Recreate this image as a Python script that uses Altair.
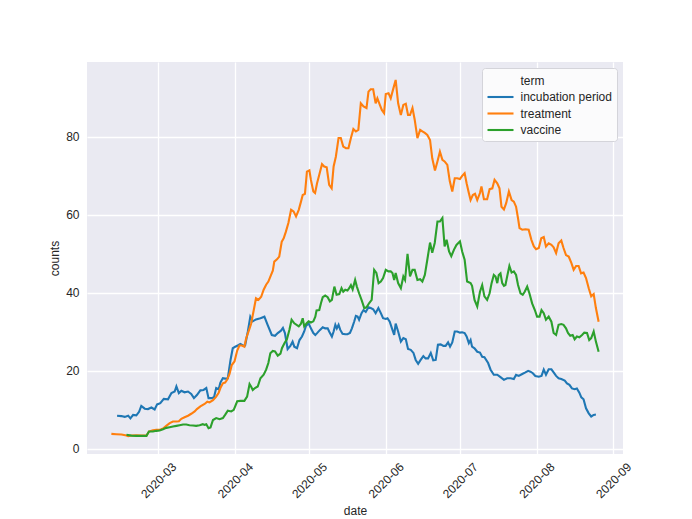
import altair as alt
import pandas as pd

# (days after 2020-03-01, count)
incubation_period = [
    (-16.7, 8.5), (-15.0, 8.4), (-13.6, 8.2), (-12.2, 8.5), (-11.3, 7.8), (-10.2, 8.7), (-8.9, 8.6),
    (-7.8, 9.5), (-6.9, 11.0), (-5.5, 10.3), (-4.2, 10.2), (-2.8, 10.6), (-1.5, 10.1), (-0.5, 11.4),
    (0.8, 11.7), (2.2, 12.8), (3.9, 12.7), (5.3, 14.3), (6.6, 14.7), (7.3, 16.0), (8.3, 14.3),
    (9.3, 14.9), (10.6, 14.5), (12.0, 14.7), (13.3, 14.1), (14.4, 13.0), (15.6, 13.8), (17.0, 15.0),
    (18.3, 15.1), (19.4, 15.6), (20.3, 13.0), (21.4, 13.0), (22.5, 13.2), (23.4, 15.6), (24.4, 15.3),
    (25.1, 17.0), (26.1, 18.1), (27.0, 18.0), (28.1, 18.1), (29.2, 22.8), (30.1, 25.8), (31.1, 26.2),
    (32.1, 26.5), (33.2, 26.9), (34.2, 26.5), (35.1, 26.5), (36.2, 30.1), (37.2, 33.9), (38.2, 32.7),
    (39.5, 33.2), (41.3, 33.5), (42.9, 33.9), (44.2, 31.8), (45.9, 29.2), (47.2, 29.0), (48.3, 29.7),
    (49.6, 30.3), (50.4, 31.0), (51.2, 29.7), (52.3, 25.6), (53.4, 26.4), (54.3, 27.5), (55.0, 26.2),
    (56.1, 25.8), (57.1, 27.9), (58.1, 28.8), (59.0, 30.1), (59.7, 31.5), (60.8, 32.2), (61.7, 30.9),
    (62.7, 29.7), (63.5, 29.2), (64.4, 29.8), (65.4, 30.5), (66.5, 31.2), (67.5, 30.9), (68.5, 30.9),
    (69.1, 30.1), (70.2, 28.8), (70.9, 30.1), (71.6, 31.8), (72.2, 30.9), (72.9, 31.8), (73.6, 30.5),
    (74.5, 29.5), (75.6, 29.4), (76.5, 29.4), (77.5, 29.7), (78.3, 30.9), (79.2, 32.6), (79.9, 34.1),
    (80.6, 33.9), (81.2, 33.1), (82.2, 34.8), (83.0, 35.6), (83.9, 35.1), (85.0, 36.3), (85.9, 36.1),
    (86.9, 35.8), (87.9, 34.8), (89.0, 36.1), (90.0, 34.8), (90.9, 33.5), (92.0, 33.3), (92.7, 33.5),
    (93.6, 32.6), (94.7, 30.5), (95.4, 29.2), (96.0, 32.1), (97.0, 30.1), (98.1, 27.5), (99.1, 28.4),
    (100.1, 28.1), (101.0, 25.6), (102.1, 25.4), (103.2, 24.6), (104.1, 22.8), (105.1, 21.8),
    (106.1, 22.8), (107.2, 23.8), (108.1, 23.2), (109.1, 23.2), (110.2, 24.6), (111.2, 22.7),
    (112.2, 22.8), (113.1, 26.7), (114.2, 26.8), (115.3, 26.4), (116.2, 26.4), (117.2, 27.3),
    (118.0, 26.2), (118.9, 27.3), (119.9, 30.1), (120.9, 30.1), (122.0, 29.8), (122.9, 29.9),
    (123.9, 29.7), (124.7, 28.8), (125.6, 27.1), (126.3, 27.9), (126.9, 26.2), (127.9, 25.8),
    (129.0, 24.9), (130.1, 24.7), (131.0, 23.6), (131.9, 23.5), (133.4, 22.0), (134.4, 20.3),
    (135.7, 19.0), (137.1, 19.0), (138.4, 18.4), (139.8, 17.7), (141.1, 18.1), (142.5, 18.1),
    (143.8, 17.9), (144.7, 19.0), (145.8, 18.7), (147.2, 19.2), (148.5, 19.6), (149.6, 20.0),
    (150.5, 19.8), (151.5, 19.4), (152.5, 18.7), (153.9, 18.5), (155.0, 18.7), (155.9, 20.3),
    (156.8, 19.0), (157.9, 20.4), (159.0, 20.4), (159.9, 19.6), (160.9, 18.7), (161.9, 18.1),
    (163.0, 17.9), (164.4, 17.5), (165.3, 16.8), (166.3, 16.4), (167.3, 15.5), (168.4, 15.3),
    (169.3, 15.5), (170.3, 14.4), (171.1, 13.2), (172.0, 12.7), (173.0, 10.4), (174.1, 9.1),
    (175.1, 8.3), (176.1, 8.7), (177.0, 8.8),
]

treatment = [
    (-19.0, 3.85), (-17.0, 3.76), (-14.9, 3.67), (-12.9, 3.42), (-12.2, 3.25), (-10.9, 3.42),
    (-8.9, 3.5), (-6.9, 3.42), (-4.8, 3.42), (-3.8, 4.44), (-2.2, 4.79), (-0.8, 4.87), (0.5, 4.87),
    (1.9, 5.2), (3.2, 5.9), (4.6, 6.6), (5.9, 7.0), (7.3, 7.0), (8.3, 7.1), (9.3, 7.7), (10.6, 8.1),
    (12.0, 8.5), (13.3, 9.0), (14.7, 9.6), (15.6, 10.2), (17.0, 10.9), (18.7, 11.5), (19.8, 12.1),
    (20.7, 11.9), (22.1, 12.5), (23.4, 13.4), (24.4, 14.4), (25.1, 15.6), (26.1, 16.8), (27.0, 17.0),
    (27.8, 17.7), (28.8, 19.2), (29.7, 21.5), (30.8, 22.4), (31.9, 25.2), (32.8, 26.5), (33.8, 26.5),
    (34.8, 26.2), (35.5, 28.3), (36.5, 30.1), (37.5, 32.0), (38.6, 35.6), (39.5, 38.6), (40.5, 38.2),
    (41.6, 39.0), (42.6, 40.8), (43.6, 42.1), (44.5, 42.9), (45.6, 44.6), (46.3, 45.7), (46.9, 48.0),
    (48.0, 48.6), (48.9, 49.3), (49.9, 53.1), (50.7, 54.0), (51.6, 55.7), (52.6, 57.9), (53.7, 61.3),
    (54.7, 60.9), (55.7, 59.6), (56.8, 61.3), (57.7, 63.4), (58.4, 65.1), (59.3, 65.4), (60.1, 71.1),
    (61.1, 71.4), (61.7, 69.0), (62.7, 66.0), (63.4, 65.6), (64.2, 68.1), (65.1, 70.3), (66.2, 73.0),
    (67.1, 72.4), (68.1, 72.2), (69.1, 67.7), (70.1, 66.8), (70.9, 72.4), (71.8, 74.9), (72.9, 79.7),
    (73.8, 79.7), (74.8, 77.5), (75.9, 77.1), (76.9, 77.1), (77.9, 79.7), (78.9, 82.0), (79.9, 81.4),
    (80.9, 81.8), (81.9, 88.6), (83.0, 87.8), (84.2, 87.4), (85.0, 91.6), (85.9, 92.2), (86.9, 92.2),
    (87.9, 88.6), (88.6, 89.9), (89.6, 88.2), (90.4, 86.9), (91.3, 86.1), (92.0, 91.0), (93.1, 91.2),
    (94.0, 89.9), (95.1, 92.5), (96.0, 94.6), (97.0, 88.6), (98.1, 85.6), (99.1, 88.2), (100.1, 88.5),
    (101.0, 85.6), (101.8, 85.6), (102.8, 87.4), (103.7, 84.4), (104.8, 79.7), (105.9, 81.8),
    (106.8, 81.4), (107.8, 81.0), (108.8, 80.5), (109.9, 79.2), (110.8, 74.5), (111.9, 71.4),
    (112.9, 73.7), (113.9, 76.2), (114.9, 74.1), (115.8, 73.7), (116.9, 72.8), (117.9, 68.6),
    (118.9, 66.0), (119.9, 69.4), (120.9, 69.4), (122.0, 69.2), (122.9, 70.0), (123.9, 70.7),
    (124.7, 68.1), (125.6, 65.6), (126.3, 63.8), (127.2, 65.1), (128.1, 65.4), (129.0, 63.8),
    (130.1, 65.6), (130.7, 67.3), (131.7, 64.0), (133.0, 64.0), (134.0, 66.6), (135.1, 66.8),
    (136.0, 69.0), (137.1, 68.1), (138.0, 66.8), (138.8, 62.1), (139.8, 61.4), (140.7, 63.0),
    (141.8, 66.0), (142.9, 63.8), (143.8, 63.4), (144.7, 62.1), (145.5, 59.1), (146.1, 56.6),
    (147.2, 56.2), (148.5, 56.3), (149.8, 56.2), (150.9, 53.6), (151.9, 51.9), (152.8, 51.2),
    (153.9, 51.5), (154.9, 54.0), (155.9, 54.3), (156.8, 51.9), (157.9, 52.7), (159.0, 52.3),
    (159.9, 51.7), (160.9, 50.2), (161.9, 52.7), (163.0, 53.4), (163.9, 51.5), (164.9, 49.7),
    (166.0, 49.3), (167.1, 47.6), (168.0, 45.9), (169.0, 46.9), (170.0, 46.9), (171.0, 45.0),
    (172.0, 45.2), (173.0, 43.8), (174.1, 41.2), (175.1, 39.1), (176.1, 39.7), (177.0, 36.1),
    (178.1, 32.6),
]

vaccine = [
    (-12.9, 3.6), (-10.9, 3.4), (-8.9, 3.33), (-6.9, 3.33), (-4.8, 3.33), (-3.8, 4.44), (-2.2, 4.44),
    (-0.8, 4.62), (0.5, 4.7), (1.9, 5.04), (3.2, 5.38), (4.6, 5.56), (5.9, 5.73), (7.3, 5.9),
    (8.6, 6.07), (10.0, 6.24), (11.3, 6.24), (12.6, 6.07), (14.0, 5.98), (15.3, 5.9), (16.7, 6.07),
    (18.0, 6.32), (18.7, 6.15), (19.4, 6.3), (20.3, 5.3), (21.1, 5.5), (22.1, 7.4), (23.4, 7.9),
    (24.8, 7.6), (26.1, 7.9), (27.0, 8.7), (28.1, 9.8), (29.5, 9.6), (30.5, 10.0), (31.9, 12.2),
    (33.2, 12.3), (34.8, 12.3), (35.9, 13.4), (36.9, 16.6), (37.5, 16.0), (38.2, 15.1), (39.1, 15.6),
    (40.2, 16.0), (41.3, 18.1), (42.6, 19.0), (43.6, 20.3), (44.5, 22.0), (45.3, 24.5), (46.3, 25.1),
    (47.2, 25.0), (48.3, 23.9), (49.4, 24.4), (50.0, 25.8), (51.0, 27.1), (52.0, 28.1), (53.0, 30.5),
    (53.9, 33.1), (55.0, 32.2), (56.8, 31.4), (57.7, 32.1), (58.4, 33.5), (59.0, 31.4), (60.0, 32.2),
    (60.8, 32.7), (61.7, 32.4), (62.7, 32.7), (63.5, 33.9), (64.0, 35.5), (65.1, 35.6), (65.8, 37.4),
    (66.5, 38.9), (67.5, 39.3), (68.5, 38.9), (69.4, 37.8), (70.2, 38.2), (71.2, 41.6), (72.1, 39.5),
    (73.2, 39.7), (74.1, 41.2), (74.8, 40.3), (75.6, 40.8), (76.5, 40.6), (77.2, 41.2), (77.9, 42.0),
    (78.6, 40.9), (79.6, 43.3), (80.3, 41.6), (81.2, 39.9), (82.2, 38.2), (83.3, 36.1), (84.2, 36.3),
    (85.3, 37.4), (86.3, 38.2), (87.3, 45.9), (88.2, 45.1), (89.1, 42.5), (90.0, 42.9), (90.9, 43.8),
    (92.0, 45.9), (93.1, 45.5), (94.0, 45.5), (94.7, 45.1), (95.4, 43.3), (96.0, 45.1), (97.0, 42.5),
    (98.1, 41.2), (99.1, 44.2), (99.8, 43.3), (100.8, 50.0), (101.8, 44.2), (102.8, 45.9),
    (103.7, 45.9), (104.8, 43.3), (105.9, 43.5), (106.8, 42.9), (107.8, 44.6), (108.8, 48.5),
    (109.9, 52.9), (110.8, 50.3), (111.8, 52.8), (112.9, 58.3), (113.9, 58.3), (114.9, 59.2),
    (115.8, 51.9), (116.6, 53.6), (117.6, 50.6), (118.5, 49.4), (119.6, 51.1), (120.6, 52.3),
    (122.0, 53.2), (122.9, 50.6), (123.9, 48.5), (124.9, 42.9), (126.3, 42.5), (126.9, 41.8),
    (127.9, 38.2), (129.0, 36.5), (130.1, 40.3), (131.0, 42.0), (131.9, 39.1), (133.0, 38.2),
    (134.0, 39.9), (134.8, 42.5), (135.7, 44.6), (136.4, 44.2), (137.1, 42.5), (137.7, 44.6),
    (138.4, 45.0), (139.1, 42.5), (139.8, 41.8), (140.4, 42.0), (141.1, 44.2), (142.0, 46.9),
    (142.9, 45.2), (143.8, 45.5), (144.7, 44.6), (145.5, 42.0), (146.5, 39.9), (147.4, 39.5),
    (148.2, 40.3), (149.2, 41.6), (150.1, 39.9), (151.2, 37.3), (152.3, 35.6), (153.2, 33.9),
    (154.2, 33.9), (155.0, 35.6), (155.9, 34.8), (156.8, 33.1), (157.9, 33.9), (159.0, 32.6),
    (159.9, 29.7), (160.9, 29.2), (161.9, 31.8), (163.0, 32.0), (163.9, 31.8), (164.9, 30.9),
    (165.7, 29.7), (166.6, 29.0), (167.6, 29.2), (168.4, 28.1), (169.3, 28.8), (170.3, 28.6),
    (171.4, 29.2), (172.3, 29.8), (173.4, 29.7), (174.3, 27.9), (175.1, 28.4), (176.1, 30.1),
    (177.0, 27.5), (178.1, 24.9),
]

terms = ["incubation period", "treatment", "vaccine"]
colors = ["#1f77b4", "#ff7f0e", "#2ca02c"]
y_ticks = [0, 20, 40, 60, 80]
tick_months = [3, 4, 5, 6, 7, 8, 9]

base = pd.Timestamp("2020-03-01")
rows = []
for term, series in zip(terms, [incubation_period, treatment, vaccine]):
    for d, v in series:
        t = base + pd.to_timedelta(d, unit="D")
        rows.append({"date": t.strftime("%Y-%m-%dT%H:%M:%S"), "counts": v, "term": term})
df = pd.DataFrame(rows)

def dt(ts):
    return alt.DateTime(year=ts.year, month=ts.month, date=ts.day, hours=ts.hour, minutes=ts.minute)

x_lo = base + pd.to_timedelta(-28.86, unit="D")
x_hi = base + pd.to_timedelta(187.96, unit="D")

FONT = "Liberation Sans"
TXT = "#262626"

chart = alt.Chart(df).mark_line(strokeWidth=2.1, clip=True).encode(
    x=alt.X("date:T",
            scale=alt.Scale(domain=[dt(x_lo), dt(x_hi)], nice=False),
            axis=alt.Axis(values=[alt.DateTime(year=2020, month=m, date=1) for m in tick_months],
                          format="%Y-%m", labelAngle=315, labelAlign="center",
                          labelBaseline="middle", labelPadding=26, labelFlush=False,
                          labelOverlap=False, title="date", titlePadding=6)),
    y=alt.Y("counts:Q",
            scale=alt.Scale(domain=[-1.32, 99.2], nice=False, zero=False),
            axis=alt.Axis(values=y_ticks, format="d", labelPadding=8, title="counts",
                          titlePadding=4)),
    color=alt.Color("term:N",
                    scale=alt.Scale(domain=["term"] + terms, range=["rgba(0,0,0,0)"] + colors),
                    legend=alt.Legend(title=None, orient="none", legendX=395, legendY=6)),
    detail="term:N",
).properties(
    width=536, height=392,
    autosize=alt.AutoSizeParams(type="none"),
    padding={"left": 79, "top": 54, "right": 61, "bottom": 63},
    background="white",
).configure_view(
    fill="#EAEAF2", stroke=None,
).configure_axis(
    grid=True, gridColor="white", gridWidth=1.3, gridOpacity=1,
    domain=False, ticks=False, tickSize=0,
    labelFont=FONT, labelFontSize=12, labelColor=TXT,
    titleFont=FONT, titleFontSize=12, titleFontWeight="normal", titleColor=TXT,
).configure_legend(
    padding=4.5, fillColor="#FBFBFC", strokeColor="#D4D4DA", cornerRadius=3,
    symbolType="M-2,0L2,0", symbolStrokeWidth=2.1, symbolSize=169, symbolOffset=6,
    labelFont=FONT, labelFontSize=12, labelColor=TXT, labelOffset=12,
    rowPadding=2.5,
)

chart.save("out.html", embed_options={"renderer": "svg", "actions": False})
